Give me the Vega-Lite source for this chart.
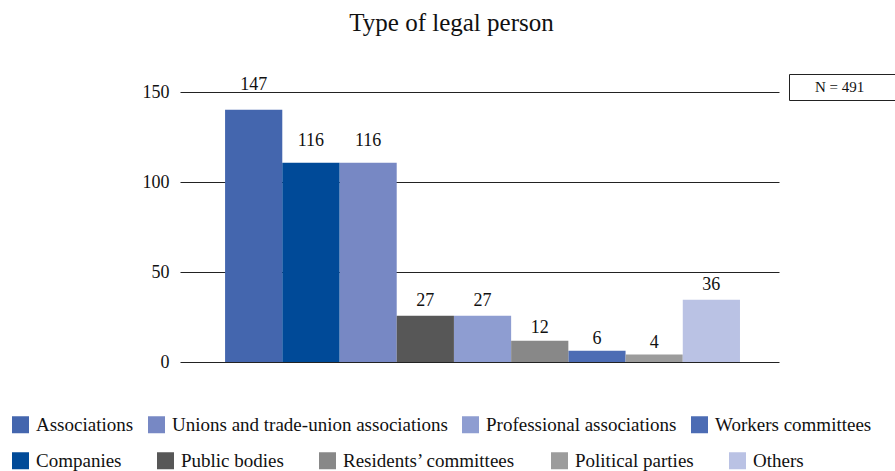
{
  "$schema": "https://vega.github.io/schema/vega-lite/v6.json",
  "width": 599,
  "height": 270,
  "autosize": {"type": "none"},
  "padding": {"left": 180, "top": 92, "right": 116, "bottom": 109},
  "background": "white",
  "title": {
    "text": "Type of legal person",
    "font": "Liberation Serif",
    "fontSize": 25,
    "fontWeight": "normal",
    "color": "#111111",
    "anchor": "middle",
    "dx": -28,
    "offset": 38
  },
  "config": {
    "view": {"stroke": null},
    "font": "Liberation Serif",
    "legend": {
      "labelFont": "Liberation Serif",
      "labelColor": "#111111",
      "titleFont": "Liberation Serif"
    }
  },
  "data": {
    "values": [
      {"category": "Associations", "value": 140.2, "label": 147, "group": "a"},
      {"category": "Companies", "value": 110.7, "label": 116, "group": "b"},
      {"category": "Unions and trade-union associations", "value": 110.7, "label": 116, "group": "a"},
      {"category": "Public bodies", "value": 25.7, "label": 27, "group": "b"},
      {"category": "Professional associations", "value": 25.7, "label": 27, "group": "a"},
      {"category": "Residents’ committees", "value": 11.8, "label": 12, "group": "b"},
      {"category": "Workers committees", "value": 6.3, "label": 6, "group": "a"},
      {"category": "Political parties", "value": 4.1, "label": 4, "group": "b"},
      {"category": "Others", "value": 34.6, "label": 36, "group": "b"}
    ]
  },
  "encoding": {
    "x": {
      "field": "category",
      "type": "nominal",
      "scale": {
        "domain": ["Associations", "Companies", "Unions and trade-union associations", "Public bodies", "Professional associations", "Residents’ committees", "Workers committees", "Political parties", "Others"],
        "paddingInner": 0,
        "paddingOuter": 0.735,
        "align": 0.536
      },
      "axis": null
    }
  },
  "layer": [
    {
      "transform": [{"filter": "datum.group === 'a'"}],
      "mark": {"type": "bar"},
      "encoding": {
        "y": {
          "field": "value",
          "type": "quantitative",
          "scale": {"domain": [0, 150], "nice": false, "zero": true},
          "axis": {
            "values": [0, 50, 100, 150],
            "grid": true,
            "gridColor": "#222222",
            "gridWidth": 1,
            "gridOpacity": 1,
            "domain": false,
            "ticks": false,
            "title": null,
            "labelFont": "Liberation Serif",
            "labelFontSize": 18,
            "labelColor": "#111111",
            "labelPadding": 11,
            "labelBaseline": "middle"
          }
        },
        "color": {
          "field": "category",
          "type": "nominal",
          "scale": {
            "domain": ["Associations", "Unions and trade-union associations", "Professional associations", "Workers committees"],
            "range": ["#4466AE", "#7788C4", "#8E9DD1", "#4C6CB4"]
          },
          "legend": {
            "title": null,
            "orient": "none",
            "direction": "horizontal",
            "legendX": -169,
            "legendY": 323,
            "padding": 0,
            "symbolType": "square",
            "symbolSize": 289,
            "symbolStrokeWidth": 0,
            "symbolOpacity": 1,
            "labelFontSize": 19,
            "labelOffset": 6,
            "columnPadding": 13,
            "labelLimit": 400
          }
        }
      }
    },
    {
      "transform": [{"filter": "datum.group === 'b'"}],
      "mark": {"type": "bar"},
      "encoding": {
        "y": {"field": "value", "type": "quantitative"},
        "fill": {
          "field": "category",
          "type": "nominal",
          "scale": {
            "domain": ["Companies", "Public bodies", "Residents’ committees", "Political parties", "Others"],
            "range": ["#004A98", "#575757", "#888888", "#9C9C9C", "#BAC2E4"]
          },
          "legend": {
            "title": null,
            "orient": "none",
            "direction": "horizontal",
            "legendX": -169,
            "legendY": 359,
            "padding": 0,
            "symbolType": "square",
            "symbolSize": 289,
            "symbolStrokeWidth": 0,
            "symbolOpacity": 1,
            "labelFontSize": 19,
            "labelOffset": 6,
            "columnPadding": 34,
            "labelLimit": 400
          }
        }
      }
    },
    {
      "mark": {
        "type": "text",
        "font": "Liberation Serif",
        "fontSize": 18,
        "color": "#111111",
        "baseline": "alphabetic",
        "align": "center",
        "dy": -7
      },
      "encoding": {
        "y": {"field": "label", "type": "quantitative"},
        "text": {"field": "label", "type": "quantitative"}
      }
    },
    {
      "data": {"values": [{"note": "N = 491"}]},
      "mark": {"type": "point", "opacity": 0, "size": 0},
      "encoding": {
        "shape": {
          "field": "note",
          "type": "nominal",
          "legend": {
            "title": "\u00a0",
            "titleOrient": "right",
            "titleFontSize": 15,
            "titlePadding": 45,
            "orient": "none",
            "legendX": 609,
            "legendY": -18,
            "padding": 5,
            "strokeColor": "#222222",
            "fillColor": "white",
            "symbolSize": 256,
            "symbolOpacity": 0,
            "symbolStrokeWidth": 0,
            "labelFontSize": 15,
            "labelOffset": 5
          }
        }
      }
    }
  ]
}
